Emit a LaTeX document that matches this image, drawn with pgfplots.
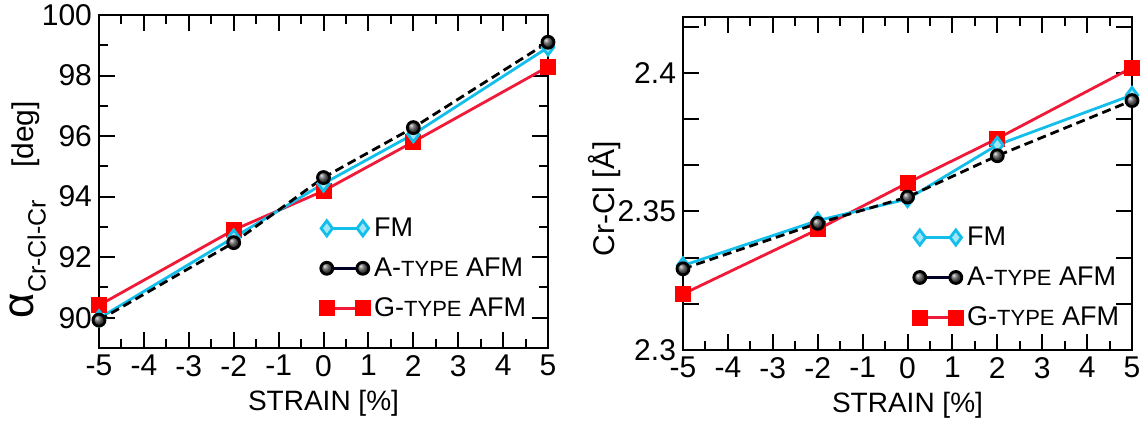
\documentclass[border=0pt]{standalone}
\usepackage{fontspec}
\setmainfont{Liberation Sans}
\usepackage{pgfplots}
\pgfplotsset{compat=1.18}
\definecolor{fmcol}{RGB}{20,190,235}
\definecolor{gcol}{RGB}{240,25,55}
\newcommand{\tsz}{\fontsize{15}{17}\selectfont}
\newcommand{\xsz}{\fontsize{14}{16}\selectfont}
\newcommand{\lsz}{\fontsize{13.5}{15}\selectfont}
\newcommand{\ssc}{\fontsize{11}{13}\selectfont}
\pgfplotsset{
  myaxis/.style={
    scale only axis, width=224.5pt,
    xmin=-5, xmax=5, xtick={-5,...,5}, minor x tick num=1,
    tick align=inside, major tick length=8pt, minor tick length=4.5pt,
    axis line style={line width=1pt}, every tick/.style={line width=1pt, black},
    tick label style={font=\tsz},
    /pgf/number format/assume math mode=true,
    xlabel={STRAIN [\%]},
    xlabel style={font=\xsz, at={(axis description cs:0.5,-0.165)}, anchor=center},
    legend cell align=left,
    legend image code/.code={\draw[##1] plot coordinates {(0pt,0pt) (18pt,0pt)};},
    legend style={draw=none, fill=none, font=\lsz, row sep=5.2pt, inner sep=0pt,
      nodes={inner sep=2pt}},
  },
  fmstyle/.style={color=fmcol, line width=1.4pt, mark=diamond*, mark size=3.8pt,
    mark options={solid, fill=fmcol!40!white, draw=fmcol}},
  astyle/.style={color=black, line width=1.4pt, mark=ball, mark size=3pt,
    mark options={solid, ball color=gray!75!black, draw=black}},
  gstyle/.style={color=gcol, line width=1.4pt, mark=square*, mark size=3.3pt,
    mark options={solid, fill=red, draw=red}},
}
\begin{document}
\begin{tikzpicture}
\useasboundingbox (0,0) rectangle (570.5pt,211pt);
\begin{axis}[myaxis,
  at={(49.5pt,37pt)}, anchor=south west, height=166.5pt,
  ymin=89, ymax=100, ytick={90,92,...,100}, minor y tick num=1,
  ylabel={\fontsize{22}{24}\selectfont α\raisebox{-0.5ex}{\fontsize{12.5}{14}\selectfont Cr-Cl-Cr}\hspace{16pt}\fontsize{15}{17}\selectfont [deg]},
  ylabel style={at={(axis description cs:-0.158,0.415)}, anchor=center},
  legend style={at={(axis description cs:0.49,0.405)}, anchor=north west},
]
\addplot[gstyle, forget plot] coordinates {(-5,90.41) (-2,92.90) (0,94.19) (2,95.81) (5,98.29)};
\addplot[fmstyle, forget plot] coordinates {(-5,89.98) (-2,92.65) (0,94.43) (2,96.06) (5,98.93)};
\addplot[astyle, dashed, dash pattern=on 4.5pt off 2.5pt, forget plot] coordinates {(-5,89.92) (-2,92.48) (0,94.63) (2,96.28) (5,99.10)};
\addlegendimage{fmstyle}
\addlegendentry{FM}
\addlegendimage{astyle, color=black!85!blue}
\addlegendentry{A-{\ssc TYPE} AFM}
\addlegendimage{gstyle}
\addlegendentry{G-{\ssc TYPE} AFM}
\end{axis}
\begin{axis}[myaxis,
  at={(341.5pt,36pt)}, anchor=south west, height=166.25pt,
  ymin=2.3, ymax=2.42,
  ytick={2.3,2.316667,2.333333,2.35,2.366667,2.383333,2.4,2.416667},
  yticklabels={2.3,,,2.35,,,2.4,},
  minor y tick num=1,
  ylabel={\fontsize{15}{17}\selectfont Cr-Cl [Å]},
  ylabel style={at={(axis description cs:-0.175,0.454)}, anchor=center},
  legend style={at={(axis description cs:0.51,0.384)}, anchor=north west},
]
\addplot[gstyle, forget plot] coordinates {(-5,2.3202) (-2,2.3435) (0,2.3603) (2,2.3763) (5,2.4019)};
\addplot[fmstyle, forget plot] coordinates {(-5,2.3305) (-2,2.3467) (0,2.3545) (2,2.3740) (5,2.3920)};
\addplot[astyle, dashed, dash pattern=on 4.5pt off 2.5pt, forget plot] coordinates {(-5,2.3293) (-2,2.3457) (0,2.3552) (2,2.3701) (5,2.3900)};
\addlegendimage{fmstyle}
\addlegendentry{FM}
\addlegendimage{astyle, color=black!85!blue}
\addlegendentry{A-{\ssc TYPE} AFM}
\addlegendimage{gstyle}
\addlegendentry{G-{\ssc TYPE} AFM}
\end{axis}
\end{tikzpicture}
\end{document}
